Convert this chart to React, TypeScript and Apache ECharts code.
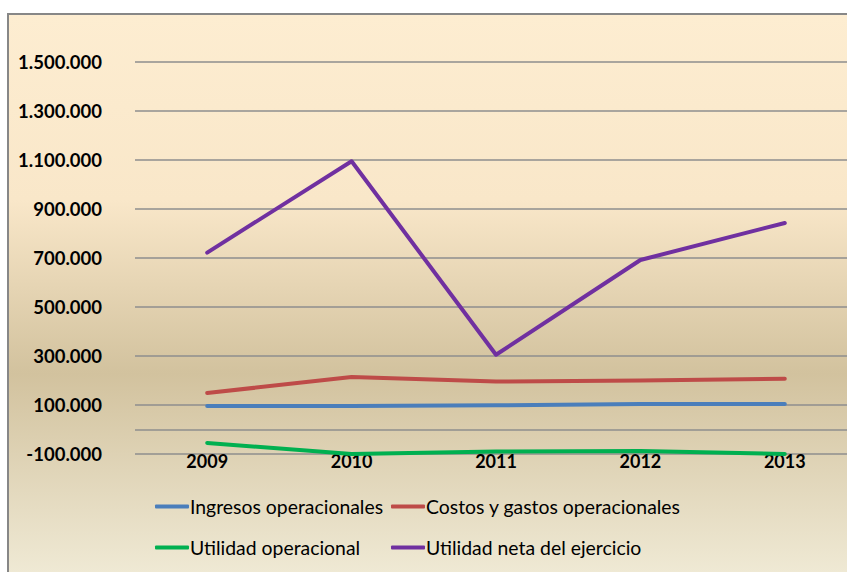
import React, { useEffect, useRef } from "react";
import * as echarts from "echarts";

const years = ["2009", "2010", "2011", "2012", "2013"];
const ingresos = [96000, 96000, 99000, 104000, 104000];
const costos = [149000, 214000, 196000, 200000, 207000];
const utilidadOp = [-55000, -100000, -90000, -88000, -100000];
const utilidadNeta = [722000, 1095000, 305000, 692000, 843000];

const names = [
  "Ingresos operacionales",
  "Costos y gastos operacionales",
  "Utilidad operacional",
  "Utilidad neta del ejercicio",
];
const colors = ["#4a7ebb", "#be4b48", "#00b050", "#7030a0"];

const FONT = "Lato";

function fmt(v: number): string {
  const neg = v < 0;
  const s = Math.abs(Math.round(v)).toString();
  const parts: string[] = [];
  for (let i = s.length; i > 0; i -= 3) parts.unshift(s.slice(Math.max(0, i - 3), i));
  return (neg ? "-" : "") + parts.join(".");
}

export default function App() {
  const ref = useRef<HTMLDivElement>(null);
  useEffect(() => {
    if (!ref.current) return;
    const chart = echarts.init(ref.current, undefined, { renderer: "svg" });
    const seriesData = [ingresos, costos, utilidadOp, utilidadNeta];
    const legendCommon = {
      orient: "vertical" as const,
      top: 492,
      itemGap: 22,
      itemWidth: 34,
      itemHeight: 4,
      icon: "roundRect",
      textStyle: { fontFamily: FONT, fontSize: 19.4, color: "#000", padding: [0, 0, 0, -4] },
    };
    chart.setOption({
      animation: false,
      graphic: [
        {
          type: "rect",
          z: -10,
          shape: { x: 8, y: 14, width: 900, height: 620 },
          style: {
            stroke: "#878787",
            lineWidth: 2,
            fill: new echarts.graphic.LinearGradient(0, 0, 0, 1, [
              { offset: 0, color: "#fdedd1" },
              { offset: 0.3, color: "#f9e7c9" },
              { offset: 0.58, color: "#d2c29e" },
              { offset: 0.9, color: "#efe9d4" },
              { offset: 1, color: "#f2eddb" },
            ]),
          },
        },
      ],
      grid: { left: 135, right: 870 - 857, top: 62, bottom: 600 - 454, containLabel: false },
      legend: [
        { ...legendCommon, left: 150, data: [names[0], names[2]] },
        { ...legendCommon, left: 386, data: [names[1], names[3]] },
      ],
      xAxis: {
        type: "category",
        data: years,
        boundaryGap: true,
        axisLine: { show: false, onZero: false },
        axisTick: { show: false },
        axisLabel: { fontFamily: FONT, fontSize: 18, fontWeight: "bold", color: "#000", margin: -2 },
      },
      yAxis: {
        type: "value",
        min: -100000,
        max: 1500000,
        interval: 200000,
        axisLine: { show: false },
        axisTick: { show: false },
        splitLine: { lineStyle: { color: "#8e8e8e", width: 1.5 } },
        axisLabel: {
          fontFamily: FONT,
          fontSize: 18.5,
          fontWeight: "bold",
          color: "#000",
          margin: 33,
          formatter: (v: number) => fmt(v),
        },
      },
      series: seriesData.map((d, i) => ({
        name: names[i],
        type: "line",
        data: d,
        showSymbol: false,
        symbol: "none",
        lineStyle: { color: colors[i], width: 4, cap: "round", join: "round" },
        itemStyle: { color: colors[i] },
        z: 3 + i,
        markLine:
          i === 0
            ? {
                silent: true,
                symbol: "none",
                label: { show: false },
                lineStyle: { color: "#8e8e8e", width: 1.5, type: "solid" },
                data: [{ yAxis: 0 }],
                z: 1,
              }
            : undefined,
      })),
    });
    return () => chart.dispose();
  }, []);
  return (
    <div style={{ position: "fixed", left: 0, top: 0, width: 847, height: 572, overflow: "hidden", background: "#fff" }}>
      <div ref={ref} style={{ width: 870, height: 600 }} />
    </div>
  );
}
